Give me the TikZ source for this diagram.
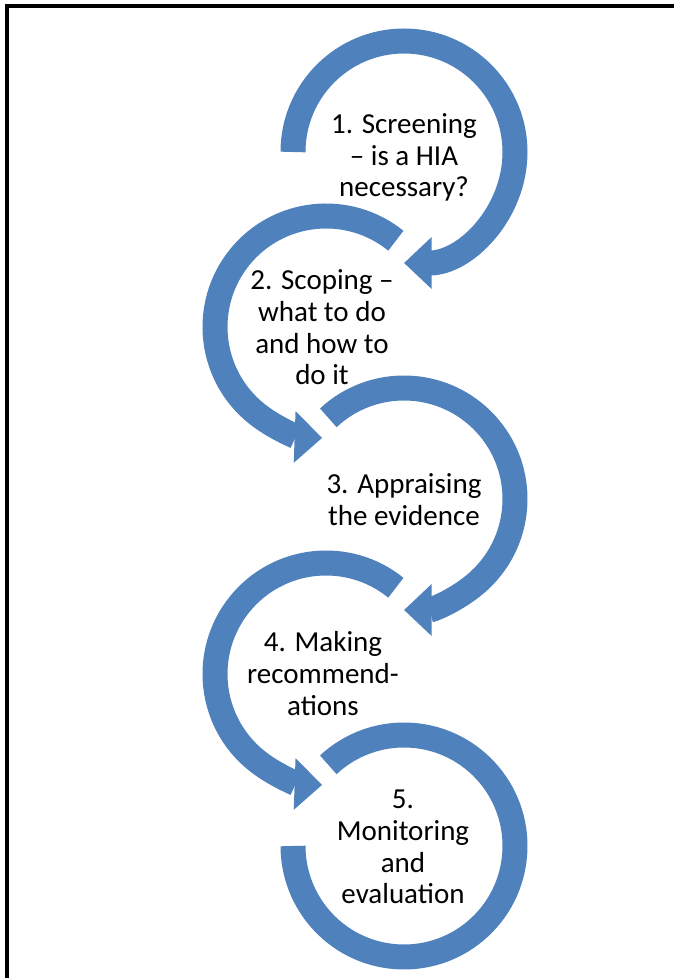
\documentclass[tikz,border=0pt]{standalone}
\usepackage{fontspec}
\setmainfont{Carlito}
\usetikzlibrary{arrows.meta}
\definecolor{hiablue}{HTML}{4F81BD}
\tikzset{
  steparc/.style={draw=hiablue, line width=0.5cm},
  steptip/.style={-{Triangle[width=1cm,length=0.55cm]}},
  steplabel/.style={align=center, inner sep=0pt, font=\fontsize{16.5}{18}\selectfont},
}
\begin{document}
\begin{tikzpicture}
        \useasboundingbox (0,0) rectangle (13.48,19.56);
        % frame
        \draw[line width=0.08cm] (0.14,-1) rectangle (14,19.44);

        % centres
        \coordinate (c1) at (8.08,16.52);
        \coordinate (c2) at (6.52,13.02);
        \coordinate (c3) at (8.08,9.58);
        \coordinate (c4) at (6.52,6.08);
        \coordinate (c5) at (8.08,2.64);

        % labels
        \node[steplabel] (s1) at (8.08,16.41) {1. Screening\\– is a HIA\\necessary?};
        \node[steplabel] (s2) at (6.44,13.01) {2. Scoping –\\what to do\\and how to\\do it};
        \node[steplabel] (s3) at (8.08,9.57) {3. Appraising\\the evidence};
        \node[steplabel] (s4) at (6.46,6.09) {4. Making\\recommend-\\ations};
        \node[steplabel] (s5) at (8.06,2.62) {5.\\Monitoring\\and\\evaluation};

        %% arcs
        \draw[steparc,steptip] (c1) ++(180:2.22) arc[start angle=180, end angle=-90, radius=2.22];
        \draw[steparc,steptip] (c2) ++(51:2.22) arc[start angle=51, end angle=268, radius=2.22];
        \draw[steparc,steptip] (c3) ++(133:2.22) arc[start angle=133, end angle=-90, radius=2.22];
        \draw[steparc,steptip] (c4) ++(51:2.22) arc[start angle=51, end angle=268, radius=2.22];
        \draw[steparc] (c5) ++(133:2.22) arc[start angle=133, end angle=-180, radius=2.22];
\end{tikzpicture}
\end{document}
